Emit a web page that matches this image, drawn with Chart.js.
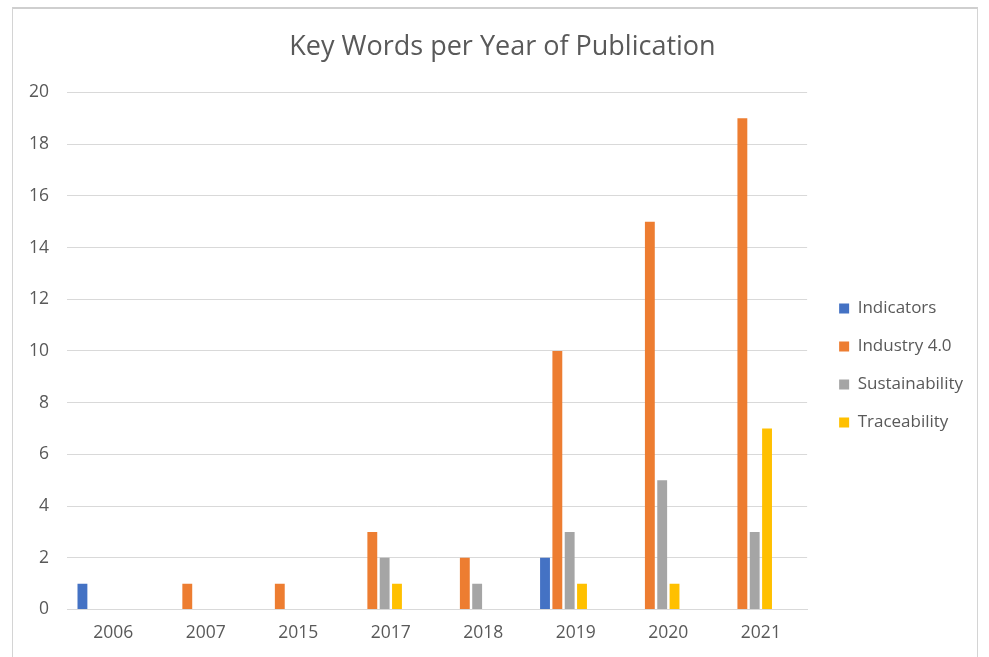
<!DOCTYPE html>
<html>
<head>
<meta charset="utf-8">
<script src="https://cdn.jsdelivr.net/npm/chart.js@4.4.1/dist/chart.umd.min.js"></script>
<style>
  html, body { margin: 0; padding: 0; background: #fff; overflow: hidden; }
  #frame {
    position: absolute; left: 12px; top: 7px; width: 966px; height: 700px;
    border: 1px solid #d4d4d4; border-top: 2px solid #cfcfcf; box-sizing: border-box;
  }
  #wrap { position: absolute; left: 0; top: 0; width: 989px; height: 657px; }
</style>
</head>
<body>
<div id="frame"></div>
<div id="wrap"><canvas id="chart"></canvas></div>
<script>
// categories and series
var years = ['2006', '2007', '2015', '2017', '2018', '2019', '2020', '2021'];
var indicators     = [1, 0, 0, 0, 0, 2, 0, 0];
var industry40     = [0, 1, 1, 3, 2, 10, 15, 19];
var sustainability = [0, 0, 0, 2, 1, 3, 5, 3];
var traceability   = [0, 0, 0, 1, 0, 1, 1, 7];
var yTicks = [0, 2, 4, 6, 8, 10, 12, 14, 16, 18, 20];

// the source workbook leaves two empty series slots after these four
var emptySlot = [null, null, null, null, null, null, null, null];

var textColor = '#595959';
var gridColor = '#d9d9d9';
var font = "'Open Sans', sans-serif";

function series(label, data, color) {
  return {
    label: label,
    data: data,
    backgroundColor: color,
    borderWidth: 0,
    categoryPercentage: 0.8,
    barPercentage: 0.8
  };
}

// Excel put the legend a little lower/further right and the title a bit right
var nudgeBoxes = {
  id: 'nudgeBoxes',
  afterLayout: function (chart) {
    var lg = chart.legend;
    if (lg) {
      lg.left += 11; lg.right += 11;
      lg.top += 27; lg.bottom += 27;
    }
    var tb = chart.titleBlock;
    if (tb) { tb.left += 16; tb.right += 16; }
  }
};

new Chart(document.getElementById('chart').getContext('2d'), {
  type: 'bar',
  data: {
    labels: years,
    datasets: [
      series('Indicators', indicators, '#4472C4'),
      series('Industry 4.0', industry40, '#ED7D31'),
      series('Sustainability', sustainability, '#A5A5A5'),
      series('Traceability', traceability, '#FFC000'),
      series('', emptySlot, 'rgba(0,0,0,0)'),
      series('', emptySlot, 'rgba(0,0,0,0)')
    ]
  },
  plugins: [nudgeBoxes],
  options: {
    responsive: true,
    maintainAspectRatio: false,
    animation: false,
    layout: { padding: { left: 11, right: 27, top: 20, bottom: 0 } },
    plugins: {
      title: {
        display: true,
        text: 'Key Words per Year of Publication',
        color: textColor,
        font: { family: font, size: 27, weight: 'normal' },
        padding: { top: 11, bottom: 29 }
      },
      legend: {
        position: 'right',
        labels: {
          color: textColor,
          font: { family: font, size: 17 },
          boxWidth: 10,
          boxHeight: 10,
          padding: 21,
          filter: function (item) { return item.text !== ''; }
        }
      },
      tooltip: { enabled: false }
    },
    scales: {
      x: {
        grid: { display: false, drawTicks: false },
        border: { color: gridColor, width: 1 },
        ticks: { color: textColor, font: { family: font, size: 17.5, lineHeight: 1 }, padding: 15 }
      },
      y: {
        min: 0,
        max: 20,
        afterBuildTicks: function (axis) {
          axis.ticks = yTicks.map(function (v) { return { value: v }; });
        },
        grid: { color: gridColor, drawTicks: false },
        border: { display: false },
        ticks: { color: textColor, font: { family: font, size: 17.5 }, padding: 18 }
      }
    }
  }
});
</script>
</body>
</html>
